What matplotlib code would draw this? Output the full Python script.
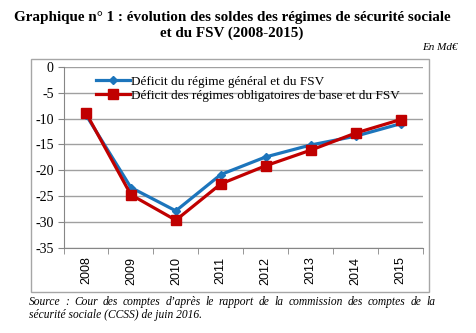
import numpy as np
import matplotlib
matplotlib.use("Agg")
from matplotlib import pyplot as plt
from matplotlib.patches import Rectangle

# soldes en Md€
annees = ["2008", "2009", "2010", "2011", "2012", "2013", "2014", "2015"]
regime_general = [-9.3, -23.3, -27.8, -20.8, -17.4, -15.1, -13.4, -11.0]
regimes_obligatoires = [-8.9, -24.7, -29.6, -22.6, -19.1, -16.1, -12.8, -10.2]
yticks = [0, -5, -10, -15, -20, -25, -30, -35]

fig = plt.figure(figsize=(4.76, 3.33), dpi=100)
fig.patch.set_facecolor("white")

# cadre autour du graphique
W, H = 476, 333
fig.patches.append(Rectangle((31 / W, 1 - 292 / H), (429 - 31) / W, (292 - 59) / H,
                             transform=fig.transFigure, fill=False,
                             edgecolor="#a6a6a6", linewidth=1.0))

ax = fig.add_axes([63.5 / W, 1 - 248.2 / H, (423 - 63.5) / W, (248.2 - 66.7) / H])
x = np.arange(len(annees))
ax.plot(x, regime_general, color="#1c75bc", linewidth=2.3, marker="D",
        markersize=4.5, label="Déficit du régime général et du FSV", zorder=3)
ax.plot(x, regimes_obligatoires, color="#c00000", linewidth=2.3, marker="s",
        markersize=7, label="Déficit des régimes obligatoires de base et du FSV", zorder=4)

ax.set_xlim(-0.5, len(annees) - 0.5)
ax.set_ylim(-35, 0)
ax.set_yticks(yticks)
ax.set_yticklabels([str(v) for v in yticks], family="Liberation Serif", fontsize=10)
ax.set_xticks(x)
ax.set_xticklabels(annees, rotation=90, family="Liberation Sans", fontsize=9)
ax.set_xticks(np.arange(-0.5, len(annees)), minor=True)
ax.tick_params(axis="x", which="major", length=0, pad=6)
ax.tick_params(axis="x", which="minor", length=4, color="#868686")
ax.tick_params(axis="y", length=4, color="#868686", pad=3)
ax.grid(axis="y", color="#a0a0a0", linewidth=1.0)
ax.set_axisbelow(True)
for side in ["top", "right"]:
    ax.spines[side].set_visible(False)
for side in ["left", "bottom"]:
    ax.spines[side].set_color("#868686")

leg = ax.legend(loc="upper left", bbox_to_anchor=(0.075, 0.98), frameon=False,
                prop={"family": "Liberation Serif", "size": 9.5},
                handlelength=2.6, handletextpad=0.1, labelspacing=0.15,
                borderaxespad=0)

# titre
fig.text(232 / W, 1 - 17 / H, "Graphique n° 1 : évolution des soldes des régimes de sécurité sociale",
         ha="center", va="center", family="Liberation Serif", weight="bold", fontsize=10.9)
fig.text(232 / W, 1 - 33 / H, "et du FSV (2008-2015)",
         ha="center", va="center", family="Liberation Serif", weight="bold", fontsize=10.9)
fig.text(458 / W, 1 - 47 / H, "En Md€", ha="right", va="center",
         family="Liberation Serif", style="italic", fontsize=8)

# source : première ligne justifiée entre x0 et x1
src_style = dict(va="center", family="Liberation Serif", style="italic", fontsize=8.3)
mots = "Source : Cour des comptes d’après le rapport de la commission des comptes de la".split(" ")
x0, x1 = 29, 435
renderer = fig.canvas.get_renderer()
items = [fig.text(0, 1 - 302 / H, m, ha="left", **src_style) for m in mots]
larg = [t.get_window_extent(renderer).width for t in items]
gap = (x1 - x0 - sum(larg)) / (len(mots) - 1)
pos = x0
for t, w in zip(items, larg):
    t.set_x(pos / W)
    pos += w + gap
fig.text(29 / W, 1 - 315 / H, "sécurité sociale (CCSS) de juin 2016.",
         ha="left", **src_style)

fig.savefig("out.png", dpi=100)
